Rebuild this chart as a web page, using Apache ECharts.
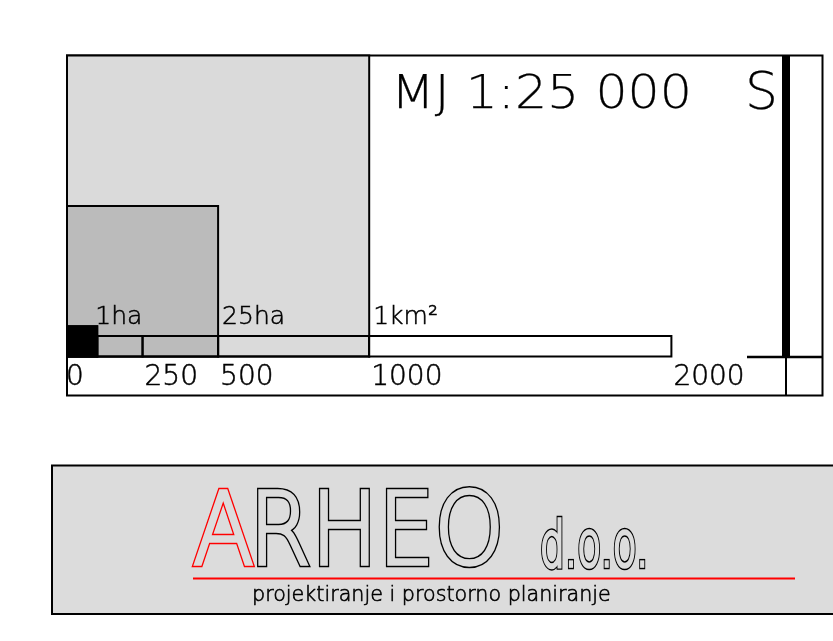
<!DOCTYPE html>
<html>
<head>
<meta charset="utf-8">
<script src="https://cdn.jsdelivr.net/npm/echarts@6/dist/echarts.min.js"></script>
<style>
html,body{margin:0;padding:0;background:#fff;}
#main{width:833px;height:641px;}
</style>
</head>
<body>
<div id="main"></div>
<script>
// ---- data (metres) ----
var squareSides = [1000, 500, 100];
var squareLabels = ['1km²', '25ha', '1ha'];
var barBreaks = [0, 100, 250, 500, 1000, 2000];
var tickValues = [0, 250, 500, 1000, 2000];
var tickLabels = ['0', '250', '500', '1000', '2000'];
var barHeight = 68;
var scaleTitle = 'MJ 1:25 000';
var northLabel = 'S';
var logoMain = ['A', 'RHEO'];
var logoSuffix = 'd.o.o.';
var logoTagline = 'projektiranje i prostorno planiranje';

var FONT = '"DejaVu Sans"';
var squareFills = ['#dadada', '#bbbbbb', '#000000'];
var LOGO_BG = '#dcdcdc';

var segments = [];
for (var i = 0; i < barBreaks.length - 1; i++) segments.push([barBreaks[i], barBreaks[i + 1]]);

var chart = echarts.init(document.getElementById('main'), null, {renderer: 'canvas'});

function thinText(x, y, text, size, opts) {
  opts = opts || {};
  return {
    type: 'text', x: x, y: y, scaleX: opts.scaleX || 1, z: opts.z || 10,
    style: {text: text, font: '200 ' + size + 'px ' + FONT, fill: '#000', stroke: '#000',
            lineWidth: opts.lw || 0.7, align: 'left', verticalAlign: 'middle'}
  };
}
function outlineText(x, y, text, size, color, scaleX) {
  var base = {type: 'text', x: x, y: y, scaleX: scaleX, z: 11};
  var outer = echarts.util.merge({}, base);
  outer.style = {text: text, font: '200 ' + size + 'px ' + FONT, fill: color, stroke: color,
                 lineWidth: 6.5, lineJoin: 'miter', align: 'left', verticalAlign: 'middle'};
  var inner = echarts.util.merge({}, base);
  inner.z = 12;
  inner.style = {text: text, font: '200 ' + size + 'px ' + FONT, fill: LOGO_BG, stroke: LOGO_BG,
                 lineWidth: 3.6, lineJoin: 'miter', align: 'left', verticalAlign: 'middle'};
  return [outer, inner];
}

var graphics = [
  // right-hand frame decorations
  {type: 'rect', shape: {x: 782, y: 55.5, width: 8, height: 301}, style: {fill: '#000'}, z: 10},
  {type: 'line', shape: {x1: 747, y1: 357, x2: 823, y2: 357}, style: {stroke: '#000', lineWidth: 2.5}, z: 10},
  {type: 'line', shape: {x1: 786, y1: 357, x2: 786, y2: 396}, style: {stroke: '#000', lineWidth: 2}, z: 10},
  thinText(391, 96, scaleTitle, 46, {scaleX: 1.1, lw: 0.25}),
  thinText(745, 95, northLabel, 52, {lw: 0.25}),
  // logo box
  {type: 'rect', shape: {x: 52, y: 465.5, width: 800, height: 148.5}, style: {fill: LOGO_BG, stroke: '#000', lineWidth: 2}, z: 5},
  {type: 'line', shape: {x1: 193, y1: 578.5, x2: 795, y2: 578.5}, style: {stroke: '#ff0000', lineWidth: 2}, z: 13},
  thinText(252, 596, logoTagline, 21, {scaleX: 0.985, lw: 0.6, z: 13})
];
graphics = graphics
  .concat(outlineText(193, 538, logoMain[0], 99, '#ff0000', 0.9))
  .concat(outlineText(249, 538, logoMain[1], 99, '#000000', 0.9))
  .concat(outlineText(540, 549.5, logoSuffix, 63, '#000000', 0.62));

var option = {
  animation: false,
  backgroundColor: '#ffffff',
  grid: {
    left: 67, top: 55.5, right: 10.5, bottom: 245.5,
    show: true, borderColor: '#000', borderWidth: 2, backgroundColor: 'transparent'
  },
  xAxis: {type: 'value', min: 0, max: 2500, show: false},
  yAxis: {type: 'value', min: -130, max: 1000, show: false},
  series: [
    {
      type: 'custom', z: 1,
      data: squareSides.map(function (s, i) { return [s, i]; }),
      renderItem: function (params, api) {
        var s = api.value(0), idx = api.value(1);
        var p0 = api.coord([0, 0]), p1 = api.coord([s, s]);
        return {
          type: 'rect',
          shape: {x: p0[0], y: p1[1], width: p1[0] - p0[0], height: p0[1] - p1[1]},
          style: {fill: squareFills[idx], stroke: '#000', lineWidth: 2}
        };
      }
    },
    {
      type: 'custom', z: 2,
      data: segments,
      renderItem: function (params, api) {
        var a = api.value(0), b = api.value(1);
        var p0 = api.coord([a, 0]), p1 = api.coord([b, barHeight]);
        return {
          type: 'rect',
          shape: {x: p0[0], y: p1[1], width: p1[0] - p0[0], height: p0[1] - p1[1]},
          style: {fill: a >= 1000 ? '#fff' : 'rgba(0,0,0,0)', stroke: '#000', lineWidth: 2}
        };
      }
    },
    {
      type: 'custom', z: 3,
      data: squareSides.map(function (s, i) { return [s, i]; }),
      renderItem: function (params, api) {
        var s = api.value(0), idx = api.value(1);
        if (idx !== squareSides.length - 1) return null;
        var p0 = api.coord([0, 0]), p1 = api.coord([s, s]);
        return {type: 'rect', shape: {x: p0[0], y: p1[1], width: p1[0] - p0[0], height: p0[1] - p1[1]},
                style: {fill: '#000', stroke: '#000', lineWidth: 2}};
      }
    },
    {
      type: 'custom', z: 4,
      data: squareSides.map(function (s, i) { return [s, i]; }),
      renderItem: function (params, api) {
        var s = api.value(0), idx = api.value(1);
        var p = api.coord([s, 100]);
        return {
          type: 'text',
          style: {x: p[0] + (idx === 2 ? -2 : 4), y: p[1] - 9, text: squareLabels[idx],
                  font: '200 25px ' + FONT, fill: '#000', stroke: '#000', lineWidth: 0.5,
                  align: 'left', verticalAlign: 'middle'}
        };
      }
    },
    {
      type: 'custom', z: 4,
      data: tickValues.map(function (v, i) { return [v, i]; }),
      renderItem: function (params, api) {
        var v = api.value(0), idx = api.value(1);
        var p = api.coord([v, 0]);
        return {
          type: 'text',
          style: {x: p[0] + (v === 0 ? -1 : 2), y: p[1] + 21, text: tickLabels[idx],
                  font: '200 28px ' + FONT, fill: '#000', stroke: '#000', lineWidth: 0.5,
                  align: 'left', verticalAlign: 'middle'}
        };
      }
    }
  ],
  graphic: graphics
};
chart.setOption(option);
</script>
</body>
</html>
